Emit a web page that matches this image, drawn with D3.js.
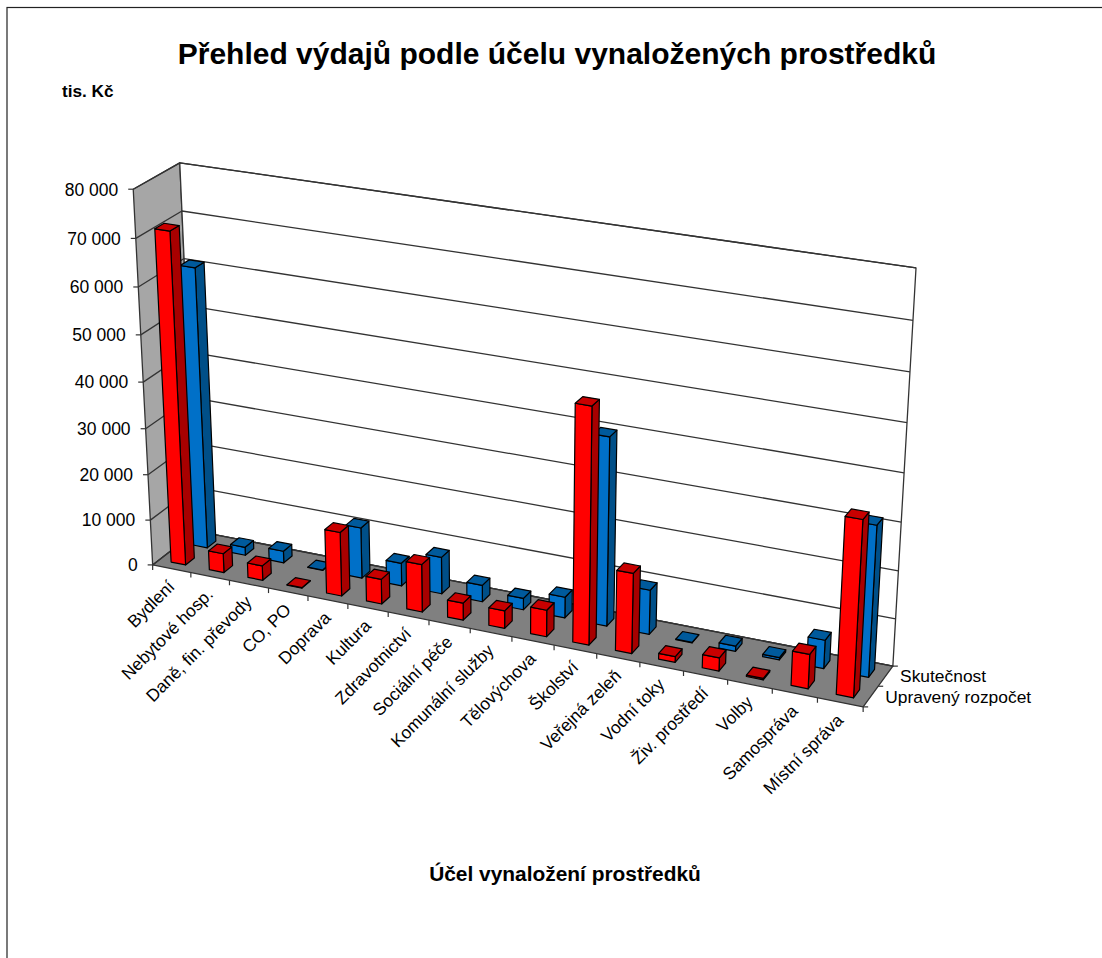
<!DOCTYPE html>
<html lang="cs">
<head>
<meta charset="utf-8">
<title>Přehled výdajů podle účelu vynaložených prostředků</title>
<script src="https://cdn.jsdelivr.net/npm/d3@7"></script>
<style>
  html, body { margin: 0; background: #fff; }
  svg { display: block; }
  text { font-family: "Liberation Sans", Arial, sans-serif; fill: #000; }
</style>
</head>
<body>
<div id="chart"></div>
<script>
const categories = ["Bydlení", "Nebytové hosp.", "Daně, fin. převody", "CO, PO", "Doprava", "Kultura",
  "Zdravotnictví", "Sociální péče", "Komunální služby", "Tělovýchova", "Školství", "Veřejná zeleň",
  "Vodní toky", "Živ. prostředí", "Volby", "Samospráva", "Místní správa"];
const upravenyRozpocet = [71500, 4200, 3200, 100, 13900, 5400, 10300, 3700, 3800, 5700, 49700, 17000, 1200, 2800, 300, 7200, 36400];
const skutecnost = [61000, 1800, 2600, 100, 11100, 5000, 8000, 3600, 2500, 4500, 40000, 9500, 100, 1100, 500, 6000, 31500];
const valueTicks = [0, 10000, 20000, 30000, 40000, 50000, 60000, 70000, 80000];
const seriesNames = ["Upravený rozpočet", "Skutečnost"];

const W = 1102, H = 958;

// where the corners of the Excel 3D box land on the page: [u, d, v, x, y]
const boxCorners = [
  [0, 0, 0, 153, 565], [1, 0, 0, 863, 707], [0, 1, 0, 196, 531], [1, 1, 0, 893, 666],
  [0, 0, 1, 133, 189], [0, 1, 1, 180, 163], [1, 1, 1, 916, 268]
];

// least squares for the 11 camera terms, then project(u, d, v) gives page coordinates
function solveCamera(pts) {
  const A = [], b = [];
  pts.forEach(([u, d, v, x, y]) => {
    A.push([u, d, v, 1, 0, 0, 0, 0, -x * u, -x * d, -x * v]); b.push(x);
    A.push([0, 0, 0, 0, u, d, v, 1, -y * u, -y * d, -y * v]); b.push(y);
  });
  const n = 11;
  const M = d3.range(n).map(i => d3.range(n + 1).map(j =>
    d3.sum(A, (row, k) => row[i] * (j < n ? row[j] : b[k]))));
  for (let c = 0; c < n; c++) {
    let p = c;
    for (let r = c + 1; r < n; r++) if (Math.abs(M[r][c]) > Math.abs(M[p][c])) p = r;
    [M[c], M[p]] = [M[p], M[c]];
    for (let r = 0; r < n; r++) {
      if (r === c) continue;
      const f = M[r][c] / M[c][c];
      for (let j = c; j <= n; j++) M[r][j] -= f * M[c][j];
    }
  }
  return M.map((row, i) => row[n] / row[i]);
}
const cam = solveCamera(boxCorners);
function project(u, d, v) {
  const w = cam[8] * u + cam[9] * d + cam[10] * v + 1;
  return [(cam[0] * u + cam[1] * d + cam[2] * v + cam[3]) / w,
          (cam[4] * u + cam[5] * d + cam[6] * v + cam[7]) / w];
}

const u = d3.scaleBand().domain(categories).range([0, 1]).paddingInner(0.62).paddingOuter(0.31);
const uEdge = d3.scaleLinear().domain([0, categories.length]).range([0, 1]);
const depth = d3.scaleBand().domain(seriesNames).range([0, 1]).paddingInner(0.6).paddingOuter(0.3);
const value = d3.scaleLinear().domain([0, 80000]).range([0, 1]);
const fmt = d3.formatLocale({ decimal: ",", thousands: " ", grouping: [3], currency: ["", ""] }).format(",d");

const svg = d3.select("#chart").append("svg").attr("width", W).attr("height", H).attr("viewBox", `0 0 ${W} ${H}`);
const poly = d3.line();

// chart frame
svg.append("rect").attr("x", 7).attr("y", 7.5).attr("width", W + 20).attr("height", H + 20)
  .attr("fill", "#fff").attr("stroke", "#222").attr("stroke-width", 1.2);

const walls = svg.append("g").attr("stroke", "#333").attr("stroke-width", 1.3).attr("stroke-linejoin", "round");
walls.append("path").attr("fill", "#a6a6a6")
  .attr("d", poly([project(0, 0, 0), project(0, 1, 0), project(0, 1, 1), project(0, 0, 1)]) + "Z");
walls.append("path").attr("fill", "#fff")
  .attr("d", poly([project(0, 1, 0), project(1, 1, 0), project(1, 1, 1), project(0, 1, 1)]) + "Z");
walls.append("path").attr("fill", "#808080")
  .attr("d", poly([project(0, 0, 0), project(1, 0, 0), project(1, 1, 0), project(0, 1, 0)]) + "Z");

// gridlines over side wall and back wall
valueTicks.forEach(t => {
  walls.append("path").attr("fill", "none")
    .attr("d", poly([project(0, 0, value(t)), project(0, 1, value(t)), project(1, 1, value(t))]));
});

// axis ticks
const axes = svg.append("g").attr("stroke", "#333").attr("stroke-width", 1.2);
valueTicks.forEach(t => {
  const [x, y] = project(0, 0, value(t));
  axes.append("line").attr("x1", x - 5).attr("x2", x).attr("y1", y).attr("y2", y);
  svg.append("text").attr("x", x - 15).attr("y", y).attr("dy", "0.36em")
    .attr("text-anchor", "end").style("font-size", "17.5px").text(fmt(t));
});
d3.range(categories.length + 1).forEach(i => {
  const [x, y] = project(uEdge(i), 0, 0);
  axes.append("line").attr("x1", x).attr("x2", x).attr("y1", y).attr("y2", y + 5);
});
[0, 0.5, 1].forEach(d => {
  const [x, y] = project(1, d, 0);
  axes.append("line").attr("x1", x).attr("x2", x + 5).attr("y1", y).attr("y2", y);
});

// bars, back series first, left to right
const barStyles = {
  "Skutečnost": { front: "#0070c8", side: "#004f88", top: "#005a9c" },
  "Upravený rozpočet": { front: "#ff0000", side: "#a80000", top: "#c80000" }
};
function drawSeries(name, values) {
  const c = barStyles[name];
  const d0 = depth(name), d1 = d0 + depth.bandwidth();
  const g = svg.append("g").attr("stroke", "#000").attr("stroke-width", 1.2).attr("stroke-linejoin", "round");
  categories.forEach((cat, i) => {
    const u0 = u(cat), u1 = u0 + u.bandwidth(), v = value(values[i]);
    g.append("path").attr("fill", c.side)
      .attr("d", poly([project(u1, d0, 0), project(u1, d1, 0), project(u1, d1, v), project(u1, d0, v)]) + "Z");
    g.append("path").attr("fill", c.front)
      .attr("d", poly([project(u0, d0, 0), project(u1, d0, 0), project(u1, d0, v), project(u0, d0, v)]) + "Z");
    g.append("path").attr("fill", c.top)
      .attr("d", poly([project(u0, d0, v), project(u1, d0, v), project(u1, d1, v), project(u0, d1, v)]) + "Z");
  });
}
drawSeries("Skutečnost", skutecnost);
drawSeries("Upravený rozpočet", upravenyRozpocet);

// category labels, rotated
categories.forEach((cat, i) => {
  const [x, y] = project(uEdge(i + 0.5), 0, 0);
  svg.append("text").attr("text-anchor", "end")
    .attr("transform", `translate(${x + 4},${y + 19}) rotate(-45)`)
    .style("font-size", "17.4px").text(cat);
});

// series labels next to the depth axis
seriesNames.forEach(name => {
  const [x, y] = project(1, depth(name) + depth.bandwidth() / 2, 0);
  svg.append("text").attr("x", x + 14.5).attr("y", y).attr("dy", "0.36em")
    .style("font-size", "17.4px").text(name);
});

svg.append("text").attr("x", 557).attr("y", 64).attr("text-anchor", "middle")
  .style("font-size", "30px").style("font-weight", "bold").text("Přehled výdajů podle účelu vynaložených prostředků");
svg.append("text").attr("x", 62).attr("y", 97)
  .style("font-size", "17.2px").style("font-weight", "bold").text("tis. Kč");
svg.append("text").attr("x", 565).attr("y", 881).attr("text-anchor", "middle")
  .style("font-size", "20.9px").style("font-weight", "bold").text("Účel vynaložení prostředků");
</script>
</body>
</html>
